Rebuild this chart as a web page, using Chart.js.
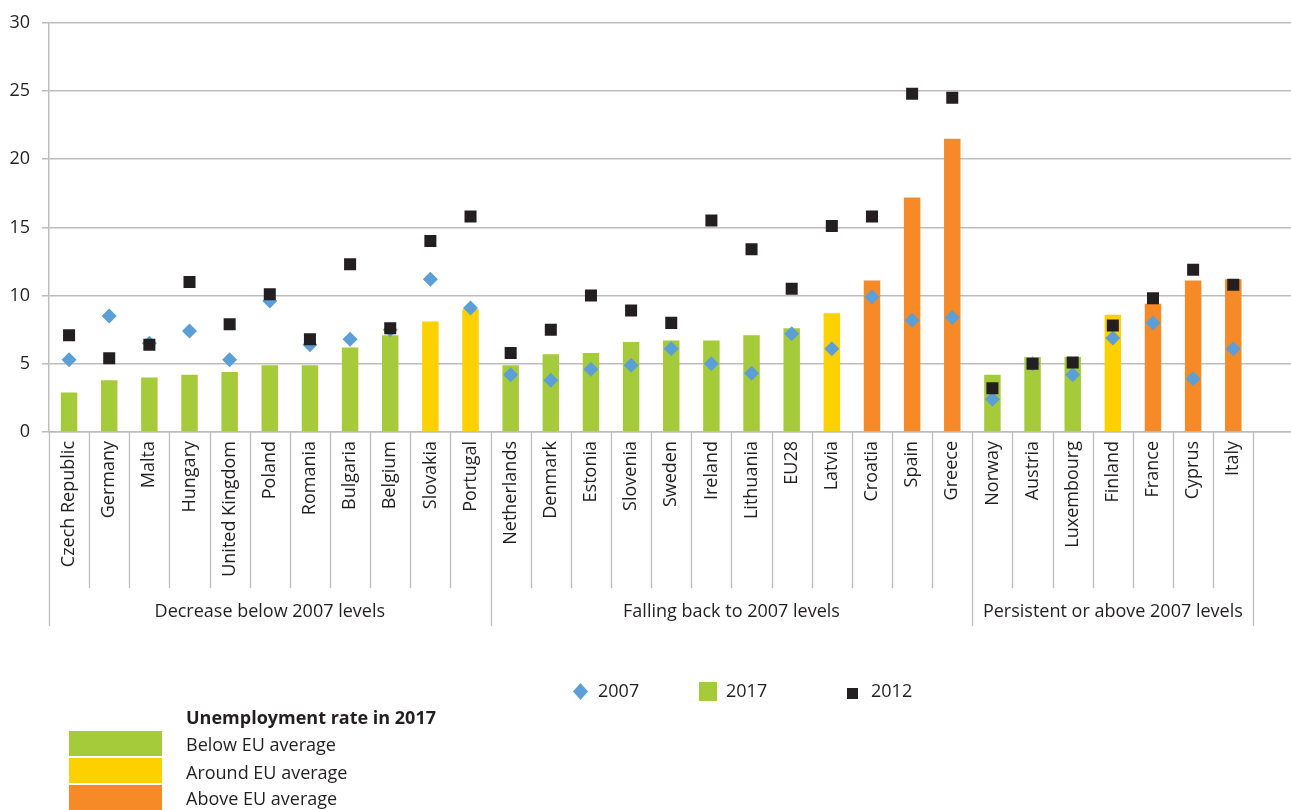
<!DOCTYPE html>
<html>
<head>
<meta charset="utf-8">
<script src="https://cdn.jsdelivr.net/npm/chart.js@4.4.0/dist/chart.umd.min.js"></script>
<style>
  body { margin: 0; overflow: hidden; background: #fff; font-family: "Open Sans", sans-serif; color: #231f20; }
  #wrap { position: relative; width: 1302px; height: 810px; }
  .lg { position: absolute; font-size: 18px; line-height: 20px; white-space: nowrap; }
  .sw { position: absolute; }
</style>
</head>
<body>
<div id="wrap">
  <canvas id="chart1"></canvas>

  <svg class="sw" style="left:573px;top:683px" width="15" height="17"><polygon points="7.5,0 15,8.5 7.5,17 0,8.5" fill="#5b9fd6"/></svg>
  <div class="lg" style="left:598px;top:680px">2007</div>
  <div class="sw" style="left:699px;top:682px;width:18px;height:19px;background:#a6cb3a"></div>
  <div class="lg" style="left:726px;top:680px">2017</div>
  <div class="sw" style="left:847px;top:688px;width:11px;height:11px;background:#231f20"></div>
  <div class="lg" style="left:871px;top:680px">2012</div>

  <div class="lg" style="left:186px;top:707px;font-weight:bold">Unemployment rate in 2017</div>
  <div class="sw" style="left:69px;top:731px;width:93px;height:25px;background:#a6cb3a"></div>
  <div class="sw" style="left:69px;top:758px;width:93px;height:25px;background:#fdd000"></div>
  <div class="sw" style="left:69px;top:785px;width:93px;height:25px;background:#f58a27"></div>
  <div class="lg" style="left:186px;top:734px">Below EU average</div>
  <div class="lg" style="left:186px;top:762px">Around EU average</div>
  <div class="lg" style="left:186px;top:788px">Above EU average</div>
</div>
<script>
// countries in chart order
const countries = ["Czech Republic", "Germany", "Malta", "Hungary", "United Kingdom", "Poland", "Romania",
    "Bulgaria", "Belgium", "Slovakia", "Portugal", "Netherlands", "Denmark", "Estonia", "Slovenia", "Sweden",
    "Ireland", "Lithuania", "EU28", "Latvia", "Croatia", "Spain", "Greece", "Norway", "Austria", "Luxembourg",
    "Finland", "France", "Cyprus", "Italy"];

// unemployment rates (%)
const rate2017 = [2.9, 3.8, 4.0, 4.2, 4.4, 4.9, 4.9, 6.2, 7.1, 8.1, 9.0, 4.9, 5.7, 5.8, 6.6, 6.7,
    6.7, 7.1, 7.6, 8.7, 11.1, 17.2, 21.5, 4.2, 5.5, 5.5, 8.6, 9.4, 11.1, 11.2];
const rate2007 = [5.3, 8.5, 6.5, 7.4, 5.3, 9.6, 6.4, 6.8, 7.5, 11.2, 9.1, 4.2, 3.8, 4.6, 4.9, 6.1,
    5.0, 4.3, 7.2, 6.1, 9.9, 8.2, 8.4, 2.4, 5.0, 4.2, 6.9, 8.0, 3.9, 6.1];
const rate2012 = [7.1, 5.4, 6.4, 11.0, 7.9, 10.1, 6.8, 12.3, 7.6, 14.0, 15.8, 5.8, 7.5, 10.0, 8.9, 8.0,
    15.5, 13.4, 10.5, 15.1, 15.8, 24.8, 24.5, 3.2, 5.0, 5.1, 7.8, 9.8, 11.9, 10.8];

// 2017 rate compared with EU average
const level2017 = ["below", "below", "below", "below", "below", "below", "below", "below", "below", "around",
    "around", "below", "below", "below", "below", "below", "below", "below", "below", "around",
    "above", "above", "above", "below", "below", "below", "around", "above", "above", "above"];

// groups of countries, in order
const groupNames = ["Decrease below 2007 levels", "Falling back to 2007 levels", "Persistent or above 2007 levels"];
const groupSizes = [11, 12, 7];

const yTicks = [0, 5, 10, 15, 20, 25, 30];

const levelColors = { below: "#a6cb3a", around: "#fdd000", above: "#f58a27" };
const gridColor = "#bdbdbd";
const fontFamily = "'Open Sans', sans-serif";

// extra empty slot on the right, like the original plot area
const labels = countries.concat([""]);

const separatorPlugin = {
    id: "separators",
    afterDraw(chart) {
        const ctx = chart.ctx;
        const x = chart.scales.x;
        const area = chart.chartArea;
        const w = x.getPixelForValue(1) - x.getPixelForValue(0);
        const start = x.getPixelForValue(0) - w / 2;
        const groupEdges = [0];
        let acc = 0;
        for (let g = 0; g < groupSizes.length; g++) {
            acc += groupSizes[g];
            groupEdges.push(acc);
        }
        ctx.save();
        ctx.strokeStyle = gridColor;
        ctx.lineWidth = 1.3;
        for (let i = 0; i <= countries.length; i++) {
            const px = Math.round(start + i * w) + 0.5;
            const bottom = groupEdges.indexOf(i) > -1 ? 626 : 588;
            ctx.beginPath();
            ctx.moveTo(px, area.bottom);
            ctx.lineTo(px, bottom);
            ctx.stroke();
        }
        ctx.fillStyle = "#231f20";
        ctx.font = "18px " + fontFamily;
        ctx.textAlign = "center";
        ctx.textBaseline = "middle";
        for (let g = 0; g < groupNames.length; g++) {
            const cx = start + (groupEdges[g] + groupEdges[g + 1]) / 2 * w;
            ctx.fillText(groupNames[g], cx, 612);
        }
        ctx.restore();
    }
};

Chart.defaults.font.family = fontFamily;
Chart.defaults.color = "#231f20";

new Chart(document.getElementById("chart1"), {
    type: "bar",
    data: {
        labels: labels,
        datasets: [{
            type: "line",
            label: "2012",
            data: rate2012,
            showLine: false,
            pointStyle: "rect",
            pointRadius: 8.5,
            pointHoverRadius: 8.5,
            backgroundColor: "#231f20",
            borderColor: "#231f20",
            borderWidth: 0,
            order: 0
        }, {
            type: "line",
            label: "2007",
            data: rate2007,
            showLine: false,
            pointStyle: "rectRot",
            pointRadius: 7.5,
            pointHoverRadius: 7.5,
            backgroundColor: "#5b9fd6",
            borderColor: "#5b9fd6",
            borderWidth: 0,
            order: 1
        }, {
            label: "2017",
            data: rate2017,
            backgroundColor: level2017.map(function (l) { return levelColors[l]; }),
            barPercentage: 0.41,
            categoryPercentage: 1,
            order: 2
        }]
    },
    options: {
        responsive: true,
        maintainAspectRatio: false,
        animation: false,
        layout: { padding: { top: 21, right: 0, bottom: 0, left: 0 } },
        plugins: {
            legend: { display: false },
            tooltip: { enabled: false }
        },
        scales: {
            x: {
                grid: { display: false },
                border: { display: true, color: gridColor, width: 1.5 },
                ticks: {
                    maxRotation: 90,
                    minRotation: 90,
                    autoSkip: false,
                    padding: 1,
                    font: { size: 18 }
                },
                afterFit: function (scale) { scale.height = 378; }
            },
            y: {
                min: 0,
                max: 30,
                afterBuildTicks: function (scale) {
                    scale.ticks = yTicks.map(function (v) { return { value: v }; });
                },
                grid: { color: gridColor, lineWidth: 1.5, tickLength: 7 },
                border: { display: true, color: gridColor, width: 1.5 },
                ticks: { padding: 12, font: { size: 18 } },
                afterFit: function (scale) { scale.width = 49; }
            }
        }
    },
    plugins: [separatorPlugin]
});
</script>
</body>
</html>
